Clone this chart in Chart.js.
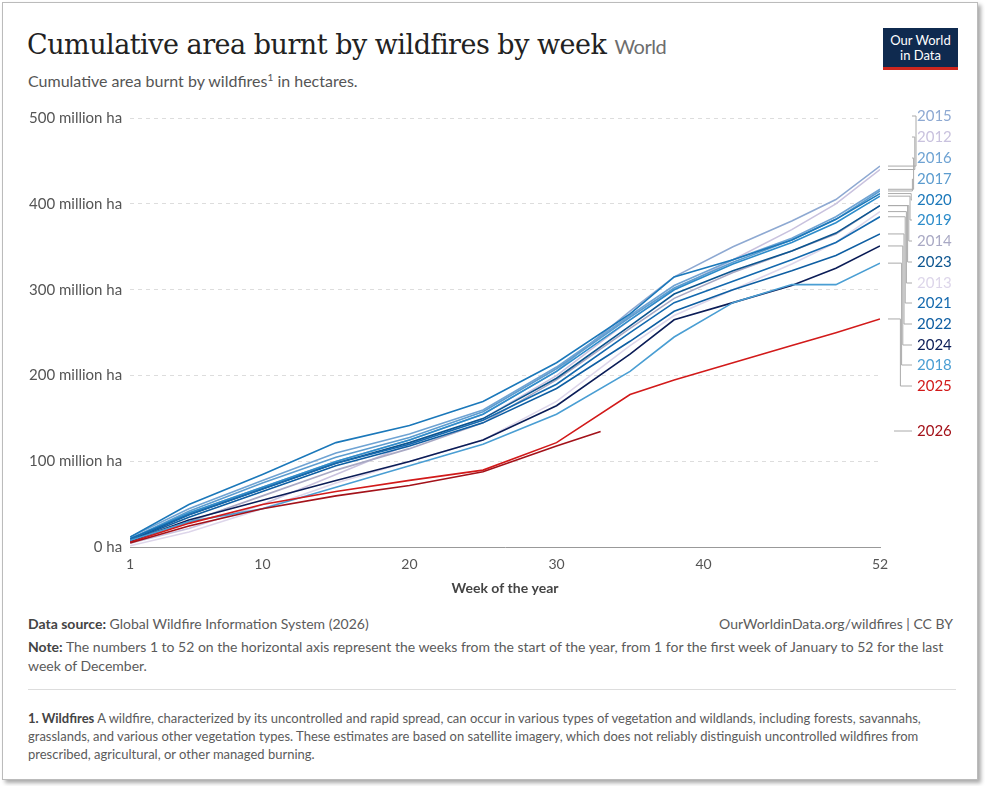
<!DOCTYPE html>
<html><head><meta charset="utf-8">
<script src="https://cdn.jsdelivr.net/npm/chart.js@4"></script>
<style>
body{margin:0;background:#fff;font-family:Lato,"Noto Sans",sans-serif;}
#frame{position:absolute;left:2px;top:2px;width:974px;height:776px;border:1px solid #bbb;box-shadow:3px 3px 4px #aaa;background:#fff;}
h1{position:absolute;left:24px;top:26px;margin:0;font-family:"DejaVu Serif",serif;font-weight:normal;font-size:27px;color:#222;letter-spacing:-0.5px}
h1 span{font-family:Lato,sans-serif;font-size:20px;color:#6d6d6d}
#sub{position:absolute;left:25px;top:68px;font-size:16px;color:#555}
#logo{position:absolute;left:880px;top:25px;width:75px;height:42px;background:#0f2a4f;color:#fff;font-size:13px;line-height:15px;text-align:center;padding-top:5px;box-sizing:border-box;border-bottom:3px solid #ce261e}
#wrap{position:absolute;left:0;top:98px;width:975px;height:500px}
.foot{position:absolute;left:25px;font-size:14px;color:#5b5b5b;line-height:19px;width:925px}
b{color:#444}
hr{position:absolute;left:25px;top:686px;width:928px;border:0;border-top:1px solid #ddd;margin:0}
</style></head><body>
<div id="frame">
<h1>Cumulative area burnt by wildfires by week <span>World</span></h1>
<div id="sub">Cumulative area burnt by wildfires<sup style="font-size:10px">1</sup> in hectares.</div>
<div id="logo">Our World<br>in Data</div>
<div id="wrap"><canvas id="c"></canvas></div>
<div class="foot" style="top:611px"><b>Data source:</b> Global Wildfire Information System (2026)<span style="float:right">OurWorldinData.org/wildfires | CC BY</span></div>
<div class="foot" style="top:634px"><b>Note:</b> The numbers 1 to 52 on the horizontal axis represent the weeks from the start of the year, from 1 for the first week of January to 52 for the last week of December.</div>
<hr>
<div class="foot" style="top:706px;font-size:13px;line-height:18px"><b>1. Wildfires</b> A wildfire, characterized by its uncontrolled and rapid spread, can occur in various types of vegetation and wildlands, including forests, savannahs, grasslands, and various other vegetation types. These estimates are based on satellite imagery, which does not reliably distinguish uncontrolled wildfires from prescribed, agricultural, or other managed burning.</div>
</div>
<script>
const weeks = [1,5,10,15,20,25,30,35,38,42,46,49,52];
const weeks2026 = [1,5,10,15,20,25,30,33];
const xTicks = [1,10,20,30,40,52];
const yTicks = [0,100,200,300,400,500];
const years = ['2015','2012','2016','2017','2020','2019','2014','2023','2013','2021','2022','2024','2018','2025','2026'];
const colors = ['#8ea9d2','#c9c2de','#6fa3d3','#5c9ccf','#1b78ba','#2d8cca','#a9a9c4','#0c5590','#ddd6ea','#1469ae','#0e5ea2','#0b1d57','#4a9ed3','#d21a1a','#a3121a'];
const values = {
 '2015':[10,40,70,100,125,155,205,275,315,350,380,405,444],
 '2012':[5,22,50,85,120,150,200,265,300,335,370,400,440],
 '2016':[12,45,78,110,132,160,210,270,305,335,360,385,417],
 '2017':[10,42,75,105,128,158,208,268,302,332,358,382,415],
 '2020':[12,50,85,122,142,170,215,272,315,335,358,382,412],
 '2019':[10,40,70,100,125,155,205,265,300,330,355,378,409],
 '2014':[6,30,60,90,115,145,195,255,290,320,345,365,398],
 '2023':[8,38,68,98,122,150,197,258,295,322,345,366,398],
 '2013':[2,18,45,75,100,125,170,235,270,300,330,355,391],
 '2021':[10,38,68,98,120,148,190,250,285,310,335,355,385],
 '2022':[8,35,65,95,118,145,185,240,275,300,322,340,365],
 '2024':[7,32,55,78,100,125,165,225,265,285,305,325,351],
 '2018':[8,30,45,70,95,120,155,205,245,285,306,306,331],
 '2025':[6,28,50,65,78,90,122,178,195,215,235,250,266],
 '2026':[5,25,45,60,72,88,118,135]
};
const labelY = [113,134,155,176,197,217,238,259,280,300,321,342,362,383,428]; // legend label rows (page px)

const datasets = years.map((y,i)=>{
  const w = y==='2026'?weeks2026:weeks;
  return {label:y,data:values[y].map((v,j)=>({x:w[j],y:v})),borderColor:colors[i],borderWidth:1.6,pointRadius:0,tension:0,fill:false};
});
// draw in reverse so darker lines on top
datasets.reverse();

const sideLabels = {
  id:'sideLabels',
  afterDraw(chart){
    const ctx=chart.ctx, ys=chart.scales.y, xs=chart.scales.x;
    const top=chart.canvas.getBoundingClientRect().top+window.scrollY-3;
    ctx.save();
    ctx.font='15px Lato';ctx.textBaseline='middle';
    years.forEach((yr,i)=>{
      const d=values[yr];const last=d[d.length-1];
      const w=yr==='2026'?weeks2026:weeks;
      const ly=labelY[i]-top-98+98-top+top; // page y relative to canvas
      const yy=labelY[i]-98;
      const ey=ys.getPixelForValue(last);
      const ex=xs.getPixelForValue(52)+8;
      const bx=ex+28-i*1.2;
      ctx.strokeStyle='#aaa';ctx.lineWidth=1;
      ctx.beginPath();
      if(yr==='2026'){ctx.moveTo(ex+6,yy);ctx.lineTo(ex+24,yy);}
      else{ctx.moveTo(ex,ey);ctx.lineTo(bx,ey);ctx.lineTo(bx,yy);ctx.lineTo(ex+24,yy);}
      ctx.stroke();
      ctx.fillStyle=colors[i];
      ctx.fillText(yr,ex+29,yy);
    });
    ctx.restore();
  }
};

new Chart(document.getElementById('c'),{
  type:'line',
  data:{datasets},
  options:{
    responsive:true,maintainAspectRatio:false,animation:false,
    layout:{padding:{left:18,right:98,top:6}},
    plugins:{legend:{display:false},tooltip:{enabled:false}},
    scales:{
      x:{type:'linear',min:1,max:52,
        afterBuildTicks(s){s.ticks=xTicks.map(v=>({value:v}));},
        grid:{display:false,drawTicks:true,tickLength:6,color:'#999'},
        border:{color:'#999'},
        ticks:{color:'#555',font:{family:'Lato',size:14},maxRotation:0},
        title:{display:true,text:'Week of the year',color:'#444',font:{family:'Lato',size:14,weight:'bold'}}},
      y:{min:0,max:500,
        afterBuildTicks(s){s.ticks=yTicks.map(v=>({value:v}));},
        grid:{color:'#ddd',drawTicks:false},
        border:{display:false,dash:[4,4]},
        ticks:{color:'#555',font:{family:'Lato',size:15},padding:8,callback:v=>v===0?'0 ha':v+' million ha'}}
    }
  },
  plugins:[sideLabels]
});
</script>
</body></html>
